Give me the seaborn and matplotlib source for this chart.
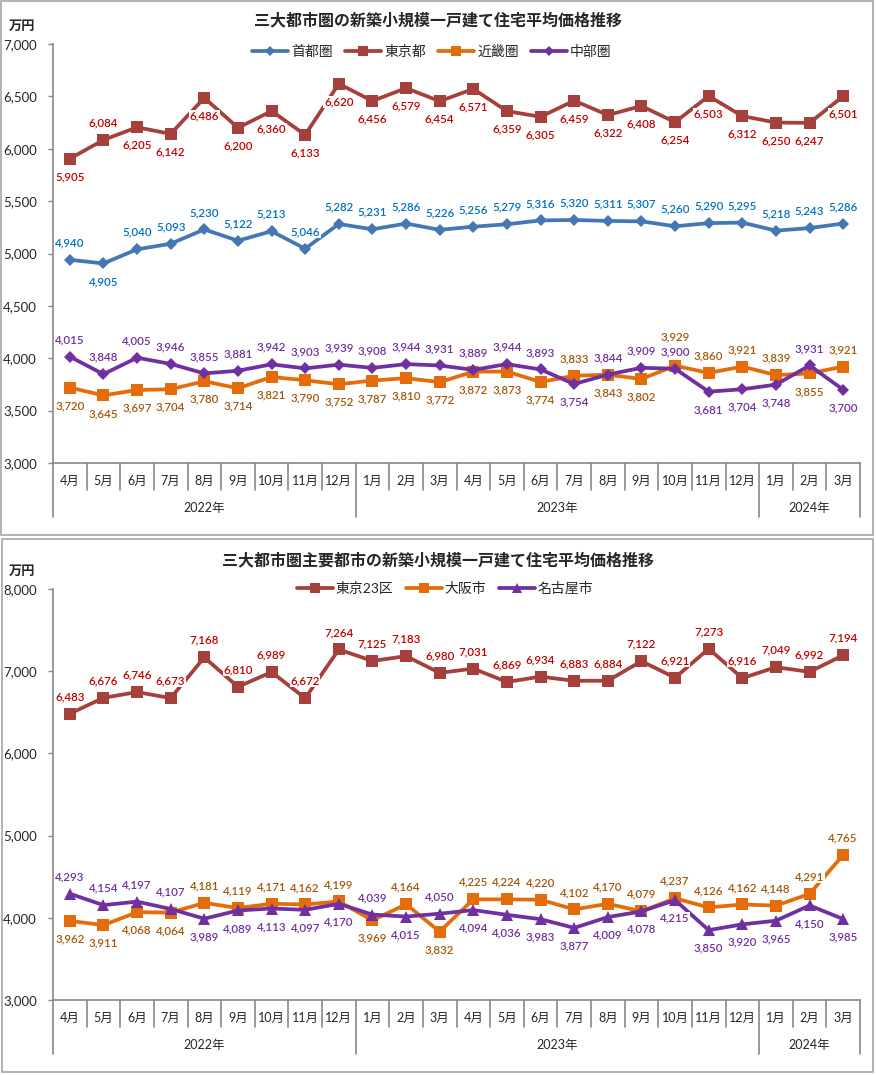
import matplotlib
matplotlib.use('Agg')
import matplotlib.pyplot as plt
from matplotlib.lines import Line2D
from matplotlib.patches import Rectangle
import seaborn as sns
import pandas as pd

# categories
months = ['4月', '5月', '6月', '7月', '8月', '9月', '10月', '11月', '12月',
          '1月', '2月', '3月', '4月', '5月', '6月', '7月', '8月', '9月', '10月', '11月', '12月',
          '1月', '2月', '3月']
years = ['2022年', '2023年', '2024年']
year_counts = [9, 12, 3]

# upper chart (三大都市圏)
shutoken = [4940, 4905, 5040, 5093, 5230, 5122, 5213, 5046, 5282, 5231, 5286, 5226,
            5256, 5279, 5316, 5320, 5311, 5307, 5260, 5290, 5295, 5218, 5243, 5286]
tokyo = [5905, 6084, 6205, 6142, 6486, 6200, 6360, 6133, 6620, 6456, 6579, 6454,
         6571, 6359, 6305, 6459, 6322, 6408, 6254, 6503, 6312, 6250, 6247, 6501]
kinki = [3720, 3645, 3697, 3704, 3780, 3714, 3821, 3790, 3752, 3787, 3810, 3772,
         3872, 3873, 3774, 3833, 3843, 3802, 3929, 3860, 3921, 3839, 3855, 3921]
chubu = [4015, 3848, 4005, 3946, 3855, 3881, 3942, 3903, 3939, 3908, 3944, 3931,
         3889, 3944, 3893, 3754, 3844, 3909, 3900, 3681, 3704, 3748, 3931, 3700]

# lower chart (主要都市)
tokyo23 = [6483, 6676, 6746, 6673, 7168, 6810, 6989, 6672, 7264, 7125, 7183, 6980,
           7031, 6869, 6934, 6883, 6884, 7122, 6921, 7273, 6916, 7049, 6992, 7194]
osaka = [3962, 3911, 4068, 4064, 4181, 4119, 4171, 4162, 4199, 3969, 4164, 3832,
         4225, 4224, 4220, 4102, 4170, 4079, 4237, 4126, 4162, 4148, 4291, 4765]
nagoya = [4293, 4154, 4197, 4107, 3989, 4089, 4113, 4097, 4170, 4039, 4015, 4050,
          4094, 4036, 3983, 3877, 4009, 4078, 4215, 3850, 3920, 3965, 4150, 3985]

# label placement: a = above, b = below, A = further above
pos_shutoken = 'ab' + 'a' * 22
pos_tokyo = 'ba' + 'b' * 22
pos_kinki = 'b' * 15 + 'abbAaaaba'
pos_chubu = 'a' * 15 + 'baaabbbab'
pos_tokyo23 = 'a' * 24
pos_osaka = 'bbbb' + 'aaaaa' + 'bab' + 'a' * 12
pos_nagoya = 'aaaa' + 'bbbbb' + 'aba' + 'b' * 12

W, H = 876, 1075
sns.set_style('white')
plt.rcParams['font.family'] = ['Lato', 'Noto Sans CJK JP', 'DejaVu Sans']

fig = plt.figure(figsize=(W / 100, H / 100), dpi=100)
grey = '#888888'
offsets = {'a': 17, 'b': -18, 'A': 29}


def draw_panel(top_px, bot_px, ymin, ymax, step, series, title, y_title, y_legend, x_legend):
    ax = fig.add_axes([53 / W, 1 - bot_px / H, 807 / W, (bot_px - top_px) / H])
    ax_h = bot_px - top_px
    x = list(range(len(months)))
    handles = []
    for name, vals, col, lcol, mk, ms, pos in series:
        df = pd.DataFrame({'x': x, 'y': vals})
        sns.lineplot(data=df, x='x', y='y', ax=ax, color=col, linewidth=2.7,
                     marker=mk, markersize=ms, markeredgewidth=0, zorder=2)
        for xi, v, p in zip(x, vals, pos):
            ax.annotate(f'{v:,}', (xi, v), xytext=(0, offsets[p]), textcoords='offset pixels',
                        ha='center', va='center', fontsize=8.3, color=lcol, zorder=5,
                        fontweight='semibold',
                        bbox=dict(boxstyle='square,pad=0.05', fc='white', ec='none'))
        handles.append(Line2D([], [], color=col, lw=2.7, marker=mk, markersize=ms - 1,
                              markeredgewidth=0, label=name))

    ax.set_xlim(-0.5, len(months) - 0.5)
    ax.set_ylim(ymin, ymax)
    ax.set_yticks(range(ymin, ymax + 1, step))
    ax.set_yticklabels([f'{t:,}' for t in range(ymin, ymax + 1, step)])
    ax.set_xticks([])
    ax.set_xlabel('')
    ax.set_ylabel('')
    ax.tick_params(axis='y', direction='out', length=3.6, width=1, color=grey,
                   pad=8, labelsize=9.5, left=True)
    for s in ['top', 'right']:
        ax.spines[s].set_visible(False)
    for s in ['left', 'bottom']:
        ax.spines[s].set_color(grey)
        ax.spines[s].set_linewidth(1.2)

    trans = ax.get_xaxis_transform()
    short = 27 / ax_h
    long = 54 / ax_h
    bounds = [-0.5]
    acc = -0.5
    for c in year_counts:
        acc += c
        bounds.append(acc)
    for i in range(1, len(months) + 1):
        xb = i - 0.5
        if xb in bounds:
            continue
        ax.plot([xb, xb], [0, -short], transform=trans, color=grey, lw=1.2, clip_on=False)
    for xb in bounds:
        ax.plot([xb, xb], [0, -long], transform=trans, color=grey, lw=1.2, clip_on=False)
    for i, m in enumerate(months):
        ax.text(i, -18 / ax_h, m, transform=trans, ha='center', va='center', fontsize=9)
    for k, yl in enumerate(years):
        ax.text((bounds[k] + bounds[k + 1]) / 2, -45 / ax_h, yl, transform=trans,
                ha='center', va='center', fontsize=9)

    fig.text(0.5, 1 - y_title / H, title, ha='center', va='center', fontsize=11.5,
             fontweight='bold')
    fig.text(22 / W, 1 - (top_px - 18) / H, '万円', ha='center', va='center', fontsize=9.5,
             fontweight='bold')
    fig.legend(handles=handles, loc='center', bbox_to_anchor=(x_legend / W, 1 - y_legend / H),
               ncol=len(handles), frameon=False, fontsize=10, handlelength=2.6,
               columnspacing=0.9, handletextpad=0.2)
    return ax


top_series = [
    ('首都圏', shutoken, '#4677B5', '#0070C0', 'D', 6.5, pos_shutoken),
    ('東京都', tokyo, '#A5403C', '#C00000', 's', 8, pos_tokyo),
    ('近畿圏', kinki, '#E46C0A', '#A3580C', 's', 8, pos_kinki),
    ('中部圏', chubu, '#7030A0', '#7030A0', 'D', 6.5, pos_chubu),
]
bottom_series = [
    ('東京23区', tokyo23, '#A5403C', '#C00000', 's', 8, pos_tokyo23),
    ('大阪市', osaka, '#E46C0A', '#A3580C', 's', 8, pos_osaka),
    ('名古屋市', nagoya, '#7030A0', '#7030A0', '^', 8, pos_nagoya),
]

draw_panel(44, 463, 3000, 7000, 500, top_series,
           '三大都市圏の新築小規模一戸建て住宅平均価格推移', 20, 51, 432)
draw_panel(589, 1000, 3000, 8000, 1000, bottom_series,
           '三大都市圏主要都市の新築小規模一戸建て住宅平均価格推移', 560, 588, 445)

# panel borders
for (x0, y0, x1, y1) in [(1, 1, 873, 535), (2, 539, 873, 1072)]:
    fig.patches.append(Rectangle((x0 / W, 1 - y1 / H), (x1 - x0) / W, (y1 - y0) / H,
                                 transform=fig.transFigure, fill=False,
                                 edgecolor='#A6A6A6', lw=1.2))

fig.savefig('out.png', dpi=100)
